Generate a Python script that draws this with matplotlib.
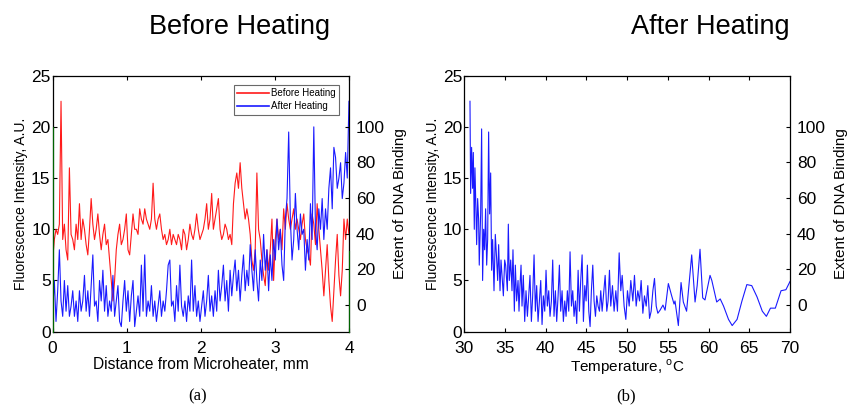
import numpy as np
import matplotlib
matplotlib.use('Agg')
import matplotlib.pyplot as plt

plt.rcParams['font.family'] = ['Liberation Sans', 'DejaVu Sans']
plt.rcParams['mathtext.fontset'] = 'custom'
plt.rcParams['mathtext.rm'] = 'Liberation Sans'

# (a) fluorescence along the channel, uniformly sampled from 0 to 4 mm
before_heating = [
    7.0, 9.0, 10.0, 9.5, 10.5, 22.5, 9.0, 10.5, 8.0, 7.0, 16.0, 9.5, 9.0, 8.0, 10.5, 9.0,
    12.5, 9.0, 11.0, 10.0, 8.5, 7.5, 10.0, 13.0, 10.5, 9.0, 10.0, 11.5, 9.5, 8.0, 9.5, 10.5,
    8.5, 9.0, 7.0, 5.0, 3.0, 5.0, 8.0, 9.5, 10.5, 8.5, 9.0, 10.0, 11.5, 8.0, 7.5, 9.5,
    11.5, 10.0, 10.0, 9.5, 12.0, 11.0, 10.5, 12.0, 11.0, 10.5, 10.0, 11.0, 14.5, 11.0, 10.0, 11.0,
    11.5, 10.0, 9.0, 9.5, 8.5, 9.0, 10.0, 8.5, 9.5, 9.0, 8.5, 9.5, 9.0, 8.0, 10.0, 9.5,
    8.0, 9.0, 10.5, 9.5, 9.0, 10.0, 11.5, 10.0, 9.0, 9.5, 10.0, 11.0, 12.5, 10.0, 11.0, 13.5,
    10.0, 11.0, 12.0, 13.0, 10.0, 9.0, 9.5, 10.5, 10.0, 9.0, 9.5, 8.5, 12.5, 14.5, 15.5, 14.0,
    16.5, 14.0, 12.5, 11.0, 12.0, 11.0, 9.5, 7.0, 6.0, 8.0, 15.5, 10.0, 9.0, 7.0, 5.5, 4.5,
    8.0, 6.0, 8.0, 11.0, 5.0, 9.0, 11.0, 9.0, 10.0, 8.0, 12.0, 10.0, 12.5, 11.0, 10.0, 11.0,
    12.0, 10.0, 11.0, 10.0, 9.0, 10.5, 11.5, 9.0, 8.0, 7.5, 6.5, 11.5, 10.5, 8.5, 12.5, 10.0,
    8.0, 6.0, 3.5, 6.0, 8.5, 5.0, 2.5, 1.0, 4.0, 7.0, 9.5, 5.5, 3.5, 6.0, 11.0, 9.0,
    11.0, 9.5,
]
after_heating = [
    2.0, 5.0, 1.0, 4.0, 8.0, 3.0, 1.5, 5.0, 2.0, 4.5, 1.5, 2.5, 4.0, 1.5, 3.0, 1.0,
    4.0, 2.0, 3.0, 5.5, 2.0, 4.0, 1.5, 4.5, 7.5, 2.5, 3.0, 1.0, 5.0, 3.0, 6.0, 2.0,
    4.5, 1.5, 3.0, 2.0, 5.5, 1.5, 3.0, 4.5, 1.0, 0.5, 3.0, 5.0, 2.0, 4.0, 1.0, 3.5,
    5.0, 0.5, 2.0, 3.5, 1.5, 6.5, 2.0, 7.5, 1.5, 3.0, 2.0, 4.5, 1.5, 3.0, 1.0, 2.5,
    4.0, 1.5, 3.0, 2.0, 4.0, 6.5, 7.0, 2.5, 3.0, 1.0, 4.5, 2.0, 6.5, 2.5, 1.5, 3.0,
    1.0, 3.5, 2.0, 7.0, 2.0, 4.5, 1.5, 3.0, 1.0, 2.5, 4.0, 1.5, 3.0, 5.5, 2.0, 3.5,
    1.5, 4.0, 2.0, 6.0, 3.0, 4.5, 6.5, 3.0, 5.0, 2.0, 6.0, 3.5, 5.5, 7.0, 4.0, 6.0,
    3.0, 5.5, 7.5, 4.0, 6.0, 4.5, 8.5, 6.0, 4.0, 8.0, 5.0, 3.0, 7.0, 5.0, 9.5, 6.0,
    8.0, 4.0, 7.5, 5.0, 9.0, 7.0, 11.0, 8.0, 10.0, 6.5, 5.0, 11.0, 13.0, 19.5, 11.0, 7.0,
    9.0, 13.5, 10.0, 8.0, 11.5, 9.5, 10.0, 6.0, 9.0, 7.0, 12.5, 9.0, 20.0, 10.0, 8.0, 12.0,
    10.0, 13.0, 9.0, 12.0, 10.0, 14.0, 16.0, 12.0, 18.0, 17.0, 14.0, 15.0, 16.5, 13.0, 14.5, 17.5,
    15.0, 22.5,
]

# (b) fluorescence vs temperature during heating
temperature = [
    30.70, 30.78, 30.90, 31.02, 31.11, 31.23, 31.31, 31.43, 31.52, 31.64, 31.76, 31.84,
    32.01, 32.13, 32.25, 32.38, 32.50, 32.62, 32.75, 32.87, 32.99, 33.11, 33.24, 33.36,
    33.48, 33.65, 33.81, 33.98, 34.10, 34.22, 34.39, 34.51, 34.63, 34.80, 34.96, 35.08,
    35.29, 35.41, 35.53, 35.70, 35.86, 35.98, 36.15, 36.27, 36.43, 36.60, 36.72, 36.84,
    36.97, 37.09, 37.25, 37.42, 37.58, 37.75, 37.91, 38.07, 38.24, 38.40, 38.57, 38.73,
    38.89, 39.06, 39.22, 39.39, 39.55, 39.71, 39.88, 40.04, 40.20, 40.37, 40.53, 40.70,
    40.86, 41.02, 41.19, 41.35, 41.52, 41.68, 41.84, 42.01, 42.17, 42.34, 42.50, 42.66,
    42.83, 42.99, 43.16, 43.32, 43.48, 43.65, 43.81, 43.98, 44.14, 44.30, 44.47, 44.63,
    44.80, 44.96, 45.12, 45.29, 45.45, 45.61, 45.78, 45.94, 46.11, 46.27, 46.43, 46.60,
    46.76, 46.93, 47.09, 47.30, 47.50, 47.66, 47.83, 47.99, 48.20, 48.40, 48.61, 48.81,
    49.02, 49.22, 49.39, 49.63, 49.84, 50.04, 50.25, 50.45, 50.70, 50.90, 51.11, 51.31,
    51.52, 51.72, 51.93, 52.13, 52.34, 52.54, 52.75, 52.95, 53.16, 53.36, 53.57, 53.77,
    54.04, 54.40, 54.66, 55.06, 55.47, 55.76, 55.88, 56.29, 56.62, 56.90, 57.30, 57.93,
    58.34, 58.60, 58.95, 59.28, 59.56, 60.18, 60.40, 61.00, 61.43, 61.84, 62.45, 62.90,
    63.50, 64.10, 64.70, 65.30, 65.95, 66.60, 67.10, 67.60, 68.20, 68.90, 69.50, 70.00,
]
after_vs_temp = [
    22.5, 13.5, 18.0, 14.0, 17.5, 10.0, 16.0, 12.0, 8.5, 13.0, 11.0, 6.5,
    11.5, 19.8, 5.0, 10.0, 8.0, 12.0, 6.5, 9.0, 19.5, 11.5, 15.5, 6.0,
    9.0, 4.0, 9.5, 7.0, 5.0, 8.5, 4.0, 7.0, 5.5, 3.5, 7.0, 6.5,
    4.0, 10.5, 5.0, 7.0, 4.0, 8.0, 2.0, 6.5, 3.0, 5.0, 2.0, 4.5,
    6.5, 2.5, 5.5, 1.0, 4.0, 1.5, 3.5, 5.5, 1.0, 3.5, 7.5, 2.0,
    4.5, 1.0, 3.0, 5.0, 0.7, 3.5, 2.0, 6.0, 2.5, 4.0, 1.5, 3.0,
    7.0, 1.5, 4.0, 1.0, 3.5, 6.5, 2.0, 4.0, 1.0, 3.0, 1.5, 4.0,
    2.0, 7.8, 2.5, 4.0, 1.5, 3.0, 0.8, 6.0, 2.0, 5.0, 7.5, 1.0,
    4.5, 3.0, 6.5, 2.0, 0.5, 4.0, 6.5, 3.0, 1.5, 3.5, 2.5, 2.0,
    4.0, 2.0, 3.5, 5.5, 2.0, 3.0, 6.0, 2.5, 4.5, 2.0, 4.0, 2.0,
    7.7, 4.0, 5.5, 2.5, 1.2, 4.0, 2.5, 5.0, 3.0, 5.5, 2.5, 4.0,
    3.0, 5.0, 1.8, 3.5, 2.5, 4.5, 1.3, 2.0, 4.0, 5.2, 2.5, 1.8,
    2.1, 2.6, 2.1, 4.7, 3.5, 2.7, 3.0, 0.6, 4.8, 2.9, 2.0, 7.5,
    2.9, 4.5, 8.05, 3.3, 3.1, 5.5, 5.0, 2.9, 3.2, 2.5, 1.2, 0.6,
    1.2, 3.0, 4.6, 4.5, 3.4, 2.0, 1.5, 2.3, 2.3, 4.0, 4.1, 4.9,
]

distance = np.linspace(0, 4, len(before_heating))

fig = plt.figure(figsize=(8.48, 4.09), dpi=100)
ax_a = fig.add_axes([0.0621, 0.189, 0.3494, 0.626])
ax_b = fig.add_axes([0.5475, 0.189, 0.3841, 0.626])

ax_a.plot(distance, before_heating, color='#ff1a1a', lw=0.8, label='Before Heating')
ax_a.plot(distance, after_heating, color='#1a1aff', lw=0.8, label='After Heating')
ax_a.set_xlim(0, 4)
ax_a.set_xticks([0, 1, 2, 3, 4])
ax_a.set_xlabel('Distance from Microheater, mm', fontsize=11.2, labelpad=1)
leg = ax_a.legend(loc='upper right', fontsize=7, frameon=True, fancybox=False,
                  handlelength=3.2, borderpad=0.35, labelspacing=0.35, handletextpad=0.3,
                  borderaxespad=0, bbox_to_anchor=(0.968, 0.965))
leg.get_frame().set_edgecolor('#444444')
leg.get_frame().set_linewidth(0.8)
for h in leg.get_lines():
    h.set_linewidth(1.2)

ax_b.plot(temperature, after_vs_temp, color='#1a1aff', lw=0.8)
ax_b.set_xlim(30, 70)
ax_b.set_xticks(range(30, 71, 5))
ax_b.set_xlabel(r'Temperature, $^{\mathrm{o}}$C', fontsize=11, labelpad=1)

for ax in (ax_a, ax_b):
    ax.set_ylim(0, 25)
    ax.set_yticks(range(0, 26, 5))
    ax.set_ylabel('Fluorescence Intensity, A.U.', fontsize=10, labelpad=2)
    ax.tick_params(direction='in', length=3, labelsize=12.5, top=True, right=False)
    ax.tick_params(axis='x', pad=6.5)
    ax.tick_params(axis='y', pad=1.5)
    for s in ax.spines.values():
        s.set_linewidth(0.9)
    tw = ax.twinx()
    tw.set_ylim(-15, 128.5)
    tw.set_yticks(range(0, 101, 20))
    tw.tick_params(direction='in', length=3, labelsize=12.5, pad=5)
    tw.set_ylabel('Extent of DNA Binding', fontsize=11, labelpad=6)
    for s in tw.spines.values():
        s.set_visible(False)
    if ax is ax_a:
        # second axis spines drawn green in the original
        tw.spines['left'].set_visible(True)
        tw.spines['right'].set_visible(True)
        tw.spines['left'].set_color('#006400')
        tw.spines['right'].set_color('#006400')
        tw.spines['left'].set_bounds(-15, 100)
        tw.spines['right'].set_bounds(-15, 30)

fig.text(0.282, 0.934, 'Before Heating', fontsize=19.5, ha='center', va='center')
fig.text(0.838, 0.934, 'After Heating', fontsize=19.5, ha='center', va='center')
fig.text(0.233, 0.03, '(a)', fontsize=12, ha='center', va='center', family='Liberation Serif')
fig.text(0.738, 0.03, '(b)', fontsize=12, ha='center', va='center', family='Liberation Serif')

fig.savefig('out.png', dpi=100)
